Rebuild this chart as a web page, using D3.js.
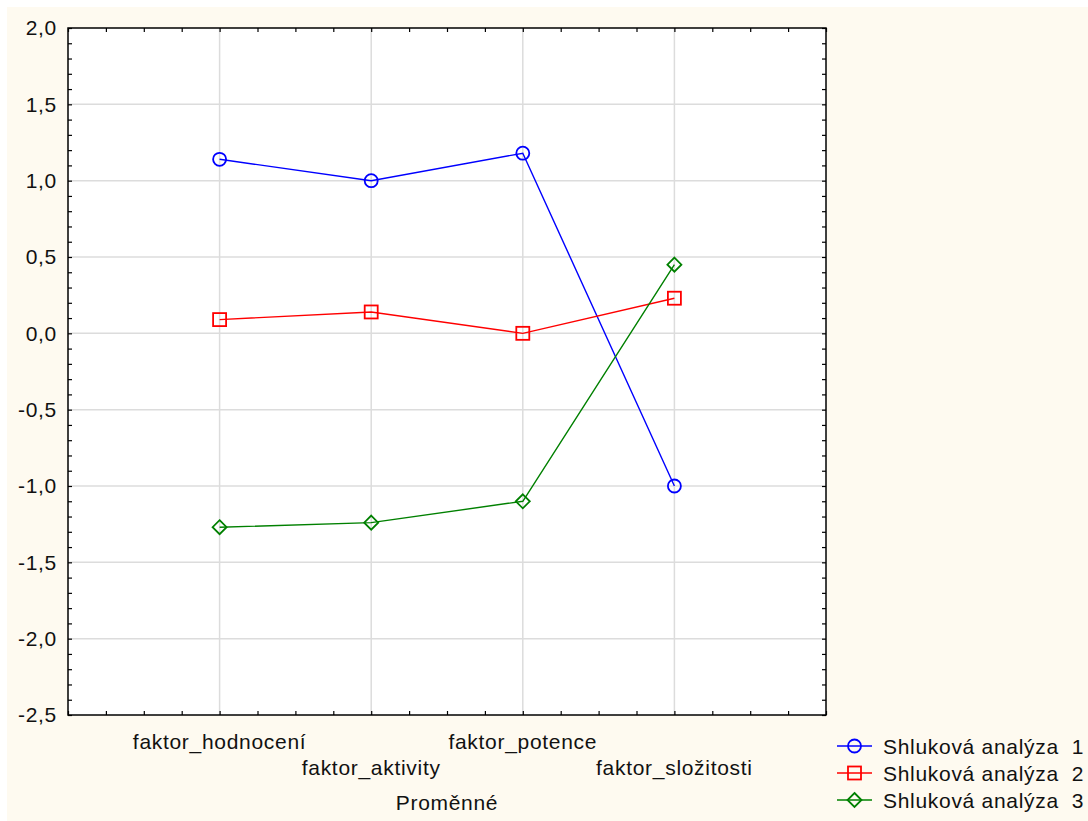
<!DOCTYPE html>
<html>
<head>
<meta charset="utf-8">
<script src="https://cdn.jsdelivr.net/npm/d3@7"></script>
<style>
  body { margin: 0; background: #ffffff; }
  text { font-family: 'Liberation Sans', Arial, sans-serif; fill: #111; letter-spacing: 0.7px; }
</style>
</head>
<body>
<div id="chart"></div>
<script>
// categories and values
var categories = ['faktor_hodnocení', 'faktor_aktivity', 'faktor_potence', 'faktor_složitosti'];
var cluster1 = [1.14, 1.0, 1.18, -1.0];
var cluster2 = [0.09, 0.14, 0.0, 0.23];
var cluster3 = [-1.27, -1.24, -1.1, 0.45];
var seriesNames = ['Shluková analýza  1', 'Shluková analýza  2', 'Shluková analýza  3'];
var yTicks = [-2.5, -2.0, -1.5, -1.0, -0.5, 0.0, 0.5, 1.0, 1.5, 2.0];
var xLabel = 'Proměnné';

var series = [
  {name: seriesNames[0], values: cluster1, color: '#0000ff', shape: 'circle'},
  {name: seriesNames[1], values: cluster2, color: '#ff0000', shape: 'square'},
  {name: seriesNames[2], values: cluster3, color: '#008000', shape: 'diamond'}
];

var W = 1088, H = 821;
var margin = {top: 28, left: 68, right: 262, bottom: 106};
var width = W - margin.left - margin.right,
  height = H - margin.top - margin.bottom;

var svg = d3.select('#chart').append('svg')
  .attr('width', W)
  .attr('height', H);

// cream page background
svg.append('rect')
  .attr('x', 7).attr('y', 7)
  .attr('width', W - 7).attr('height', H - 7)
  .attr('fill', '#fefaf0');

var g = svg.append('g')
  .attr('transform', 'translate(' + margin.left + ',' + margin.top + ')');

g.append('rect')
  .attr('width', width).attr('height', height)
  .attr('fill', '#ffffff');

// scales: categories sit at 1..4 on a 0..5 axis
var x = d3.scaleLinear().domain([0, categories.length + 1]).range([0, width]);
var y = d3.scaleLinear().domain([-2.5, 2]).range([height, 0]);

// grid
g.append('g').selectAll('line')
  .data(yTicks.slice(1, -1))
  .enter().append('line')
  .attr('x1', 0).attr('x2', width)
  .attr('y1', function (d) { return y(d); })
  .attr('y2', function (d) { return y(d); })
  .attr('stroke', '#dcdcdc').attr('stroke-width', 1.5);

g.append('g').selectAll('line')
  .data(categories)
  .enter().append('line')
  .attr('x1', function (d, i) { return x(i + 1); })
  .attr('x2', function (d, i) { return x(i + 1); })
  .attr('y1', 0).attr('y2', height)
  .attr('stroke', '#dcdcdc').attr('stroke-width', 1.5);

// minor ticks (pointing inward) on all four sides
var yMinor = d3.range(-25, 21).map(function (d) { return d / 10; });
var xMinor = d3.range(0, 21).map(function (d) { return d / 4; });

function tickAxis(axis, tr) {
  var a = g.append('g').attr('transform', tr).call(axis);
  a.select('.domain').remove();
  a.selectAll('line').attr('stroke', '#000').attr('stroke-width', 1.2);
}
tickAxis(d3.axisLeft(y).tickValues(yMinor).tickSize(-4).tickFormat(''), 'translate(0,0)');
tickAxis(d3.axisRight(y).tickValues(yMinor).tickSize(-4).tickFormat(''), 'translate(' + width + ',0)');
tickAxis(d3.axisTop(x).tickValues(xMinor).tickSize(-4).tickFormat(''), 'translate(0,0)');
tickAxis(d3.axisBottom(x).tickValues(xMinor).tickSize(-4).tickFormat(''), 'translate(0,' + height + ')');

// y labels
var yAxis = g.append('g')
  .call(d3.axisLeft(y).tickValues(yTicks).tickSize(0).tickPadding(11)
    .tickFormat(function (d) { return d.toFixed(1).replace('.', ','); }));
yAxis.select('.domain').remove();
yAxis.selectAll('text')
  .attr('font-size', 21)
  .attr('font-family', "'Liberation Sans', Arial, sans-serif")
  .attr('fill', '#111');

// x labels, staggered on two rows
g.append('g').selectAll('text')
  .data(categories)
  .enter().append('text')
  .attr('x', function (d, i) { return x(i + 1); })
  .attr('y', function (d, i) { return height + (i % 2 === 0 ? 34 : 60); })
  .attr('text-anchor', 'middle')
  .attr('font-size', 21)
  .text(function (d) { return d; });

g.append('text')
  .attr('x', width / 2)
  .attr('y', height + 95)
  .attr('text-anchor', 'middle')
  .attr('font-size', 21)
  .text(xLabel);

// frame
g.append('rect')
  .attr('width', width).attr('height', height)
  .attr('fill', 'none')
  .attr('stroke', '#000').attr('stroke-width', 1.5);

// markers
function drawMarker(sel, shape, color) {
  if (shape === 'circle') {
    sel.append('circle').attr('r', 6.5);
  } else if (shape === 'square') {
    sel.append('rect').attr('x', -6.5).attr('y', -6.5).attr('width', 13).attr('height', 13);
  } else {
    sel.append('path').attr('d', 'M0,-7L7,0L0,7L-7,0Z');
  }
  sel.selectAll('circle,rect,path')
    .attr('fill', 'none')
    .attr('stroke', color)
    .attr('stroke-width', 1.8);
}

var line = d3.line()
  .x(function (d, i) { return x(i + 1); })
  .y(function (d) { return y(d); });

series.forEach(function (s) {
  g.append('path')
    .datum(s.values)
    .attr('d', line)
    .attr('fill', 'none')
    .attr('stroke', s.color)
    .attr('stroke-width', 1.4);
});

series.forEach(function (s) {
  g.append('g').selectAll('g')
    .data(s.values)
    .enter().append('g')
    .attr('transform', function (d, i) { return 'translate(' + x(i + 1) + ',' + y(d) + ')'; })
    .each(function () { drawMarker(d3.select(this), s.shape, s.color); });
});

// legend
var legend = svg.append('g').attr('transform', 'translate(837,746)');
series.forEach(function (s, i) {
  var row = legend.append('g').attr('transform', 'translate(0,' + i * 27 + ')');
  row.append('line')
    .attr('x1', 0).attr('x2', 35)
    .attr('stroke', s.color).attr('stroke-width', 1.4);
  var m = row.append('g').attr('transform', 'translate(17.5,0)');
  drawMarker(m, s.shape, s.color);
  row.append('text')
    .attr('x', 46).attr('y', 8)
    .attr('font-size', 21)
    .style('white-space', 'pre')
    .text(s.name);
});
</script>
</body>
</html>
